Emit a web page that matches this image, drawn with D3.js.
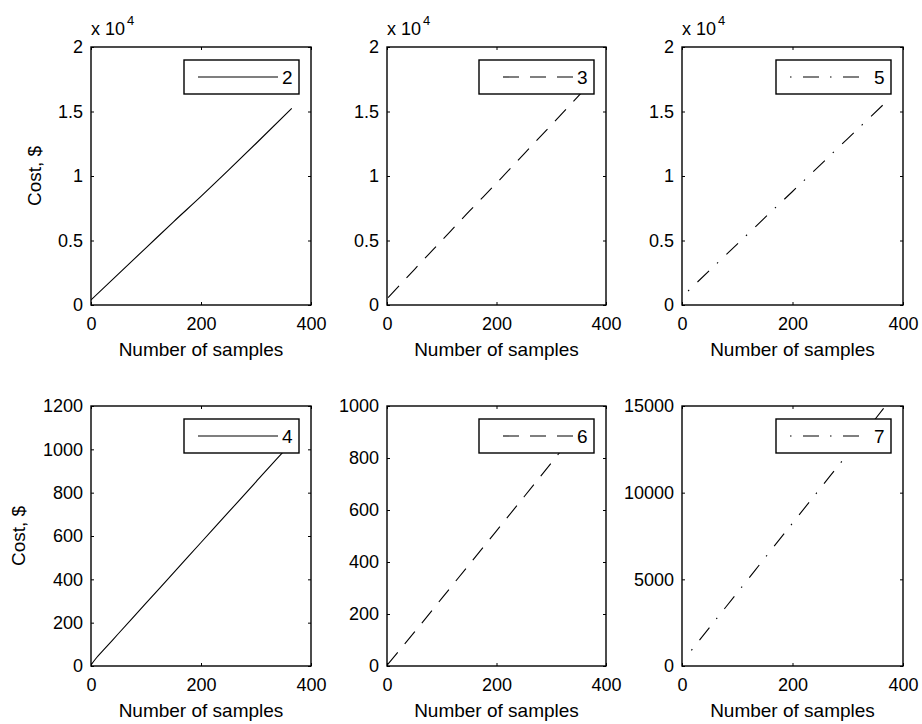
<!DOCTYPE html>
<html>
<head>
<meta charset="utf-8">
<script src="https://cdn.jsdelivr.net/npm/d3@7"></script>
<style>
  html, body { margin: 0; padding: 0; background: #fff; }
  svg { display: block; }
</style>
</head>
<body>
<svg id="chart" width="922" height="724"></svg>
<script>
// ---- data ----
const seriesNames = ["2", "3", "5", "4", "6", "7"];
const xTicks = [0, 200, 400];

const samples2 = [0, 50, 100, 150, 200, 250, 300, 365];
const cost2    = [390, 2420, 4430, 6450, 8420, 10450, 12520, 15250];

const samples3 = [2, 50, 100, 150, 200, 250, 300, 365];
const cost3    = [570, 2750, 5000, 7250, 9450, 11700, 13950, 16900];

const samples5 = [11, 50, 100, 150, 200, 250, 300, 365];
const cost5    = [1085, 2680, 4720, 6770, 8800, 10850, 12900, 15560];

const samples4 = [0, 10, 25, 50, 100, 150, 200, 250, 300, 347, 365];
const cost4    = [5, 38, 80, 150, 290, 430, 570, 710, 850, 981, 1030];

const samples6 = [1, 50, 100, 150, 200, 250, 310, 365];
const cost6    = [5, 130, 260, 390, 520, 650, 807, 950];

const samples7 = [17, 50, 100, 150, 200, 250, 300, 365];
const cost7    = [905, 2230, 4230, 6235, 8240, 10240, 12240, 14865];

const yTicksTop = [0, 5000, 10000, 15000, 20000];
const yTicks4 = [0, 200, 400, 600, 800, 1000, 1200];
const yTicks6 = [0, 200, 400, 600, 800, 1000];
const yTicks7 = [0, 5000, 10000, 15000];

// ---- layout / styles ----
const colLeft = [91, 387, 682];
const colWidth = [220, 219, 221];
const rowTop = [47, 406];
const rowHeight = [258, 260];
const FONT = "'Liberation Sans', Arial, Helvetica, sans-serif";
const styles = {
  solid: null,
  dashed: "16,11",
  dashdot: "1.5,11.5,16,11"
};

const panels = [
  {name: seriesNames[0], xs: samples2, ys: cost2, yDomain: [0, 20000], yTicks: yTicksTop, fmt: d => d / 1e4, mult: true, style: "solid", r: 0, c: 0, ylabel: true},
  {name: seriesNames[1], xs: samples3, ys: cost3, yDomain: [0, 20000], yTicks: yTicksTop, fmt: d => d / 1e4, mult: true, style: "dashed", r: 0, c: 1},
  {name: seriesNames[2], xs: samples5, ys: cost5, yDomain: [0, 20000], yTicks: yTicksTop, fmt: d => d / 1e4, mult: true, style: "dashdot", r: 0, c: 2},
  {name: seriesNames[3], xs: samples4, ys: cost4, yDomain: [0, 1200], yTicks: yTicks4, fmt: d => d, style: "solid", r: 1, c: 0, ylabel: true},
  {name: seriesNames[4], xs: samples6, ys: cost6, yDomain: [0, 1000], yTicks: yTicks6, fmt: d => d, style: "dashed", r: 1, c: 1},
  {name: seriesNames[5], xs: samples7, ys: cost7, yDomain: [0, 15000], yTicks: yTicks7, fmt: d => d, style: "dashdot", r: 1, c: 2}
];

const svg = d3.select("#chart");
const TICK_FS = 18, LABEL_FS = 19;

panels.forEach(p => {
  const left = colLeft[p.c], top = rowTop[p.r];
  const w = colWidth[p.c], h = rowHeight[p.r];
  const x = d3.scaleLinear().domain([0, 400]).range([0, w]);
  const y = d3.scaleLinear().domain(p.yDomain).range([h, 0]);
  const g = svg.append("g").attr("transform", `translate(${left},${top})`);

  const clipId = `clip-${p.r}-${p.c}`;
  g.append("clipPath").attr("id", clipId).append("rect").attr("width", w).attr("height", h);

  // data line
  const pts = p.xs.map((v, i) => [v, p.ys[i]]);
  const line = d3.line().curve(d3.curveMonotoneX).x(d => x(d[0])).y(d => y(d[1]));
  g.append("path")
    .attr("clip-path", `url(#${clipId})`)
    .attr("d", line(pts))
    .attr("fill", "none")
    .attr("stroke", "#000")
    .attr("stroke-width", 1.1)
    .attr("stroke-dasharray", styles[p.style]);

  // axes
  const styleAxis = sel => {
    sel.attr("font-family", FONT).attr("font-size", TICK_FS);
    sel.select(".domain").remove();
    sel.selectAll(".tick line").attr("stroke", "#000").attr("stroke-width", 1);
    sel.selectAll(".tick text").attr("fill", "#000");
  };
  g.append("g").attr("transform", `translate(0,${h})`)
    .call(d3.axisBottom(x).tickValues(xTicks).tickSizeInner(-3).tickSizeOuter(0).tickPadding(12).tickFormat(d3.format("d")))
    .call(styleAxis);
  g.append("g")
    .call(d3.axisTop(x).tickValues(xTicks).tickSizeInner(-3).tickSizeOuter(0).tickFormat(""))
    .call(styleAxis);
  g.append("g")
    .call(d3.axisLeft(y).tickValues(p.yTicks).tickSizeInner(-3).tickSizeOuter(0).tickPadding(8).tickFormat(p.fmt))
    .call(styleAxis);
  g.append("g").attr("transform", `translate(${w},0)`)
    .call(d3.axisRight(y).tickValues(p.yTicks).tickSizeInner(-3).tickSizeOuter(0).tickFormat(""))
    .call(styleAxis);

  // frame
  g.append("rect").attr("width", w).attr("height", h)
    .attr("fill", "none").attr("stroke", "#000").attr("stroke-width", 1.4);

  // multiplier
  if (p.mult) {
    const t = g.append("text").attr("x", 0).attr("y", -12)
      .attr("font-family", FONT).attr("font-size", TICK_FS).attr("fill", "#000");
    t.append("tspan").text("x 10");
    t.append("tspan").attr("dx", 2).attr("dy", -10).attr("font-size", 13).text("4");
  }

  // x label
  g.append("text").attr("x", w / 2).attr("y", h + 51)
    .attr("text-anchor", "middle").attr("font-family", FONT).attr("font-size", LABEL_FS)
    .attr("fill", "#000")
    .text("Number of samples");

  // y label
  if (p.ylabel) {
    const lx = p.r === 0 ? 41 - left : 25 - left;
    g.append("text").attr("transform", `translate(${lx},${h / 2}) rotate(-90)`)
      .attr("text-anchor", "middle").attr("font-family", FONT).attr("font-size", LABEL_FS)
      .attr("fill", "#000")
      .text("Cost, $");
  }

  // legend
  const bw = 115, bh = 34;
  const bx = w - 12 - bw, by = 13;
  const lg = g.append("g").attr("transform", `translate(${bx},${by})`);
  lg.append("rect").attr("width", bw).attr("height", bh)
    .attr("fill", "#fff").attr("stroke", "#000").attr("stroke-width", 1.4);
  const l0 = 14, l1 = 94;
  const offset = p.style === "dashed" ? 17 : 0;
  lg.append("line").attr("x1", l0).attr("x2", l1).attr("y1", bh / 2).attr("y2", bh / 2)
    .attr("stroke", "#000").attr("stroke-width", 1.1)
    .attr("stroke-dasharray", styles[p.style])
    .attr("stroke-dashoffset", offset);
  lg.append("text").attr("x", 98).attr("y", bh / 2).attr("dy", "0.36em")
    .attr("font-family", FONT).attr("font-size", LABEL_FS).attr("fill", "#000")
    .text(p.name);
});
</script>
</body>
</html>
